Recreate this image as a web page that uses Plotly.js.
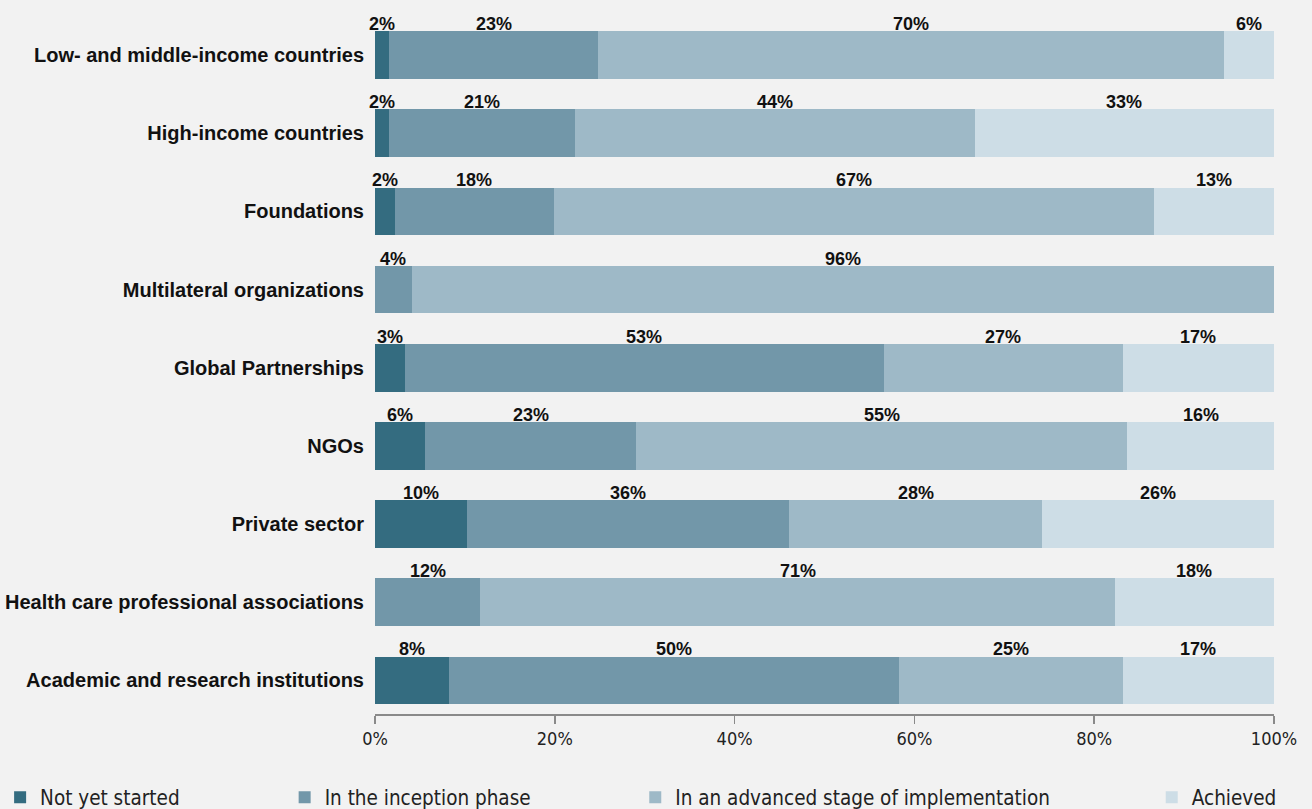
<!DOCTYPE html>
<html>
<head>
<meta charset="utf-8">
<script src="https://cdn.plot.ly/plotly-3.0.1.min.js"></script>
<style>
  html, body { margin: 0; padding: 0; background: #f2f2f2; }
  #chart { width: 1312px; height: 809px; }
</style>
</head>
<body>
<div id="chart"></div>
<script>
const categories = [
  'Low- and middle-income countries',
  'High-income countries',
  'Foundations',
  'Multilateral organizations',
  'Global Partnerships',
  'NGOs',
  'Private sector',
  'Health care professional associations',
  'Academic and research institutions'
];
const seriesNames = ['Not yet started', 'In the inception phase', 'In an advanced stage of implementation', 'Achieved'];
const notStarted = [1.6, 1.6, 2.2, 0, 3.3, 5.6, 10.2, 0, 8.2];
const inception  = [23.2, 20.7, 17.7, 4.1, 53.3, 23.4, 35.9, 11.7, 50.1];
const advanced   = [69.6, 44.4, 66.7, 95.9, 26.6, 54.7, 28.1, 70.6, 24.9];
const achieved   = [5.6, 33.3, 13.4, 0, 16.8, 16.3, 25.8, 17.7, 16.8];
const colors = ['#346c80', '#7297a9', '#9eb9c7', '#cddde6'];
const xTicks = [0, 20, 40, 60, 80, 100];
const xTickText = xTicks.map(t => t + '%');

const series = [notStarted, inception, advanced, achieved];
const legendIds = ['legend', 'legend2', 'legend3', 'legend4'];
const legendX = [-0.417, -0.1005, 0.2895, 0.864];

const traces = series.map((vals, i) => ({
  type: 'bar',
  orientation: 'h',
  name: seriesNames[i],
  y: categories,
  x: vals,
  width: 0.61,
  marker: { color: colors[i], line: { width: 0 } },
  legend: legendIds[i],
  hoverinfo: 'skip'
}));

const annotations = [];
categories.forEach((cat, r) => {
  let cum = 0;
  series.forEach((vals) => {
    const v = vals[r];
    if (v > 0) {
      annotations.push({
        xref: 'x', yref: 'y',
        x: cum + v / 2, y: cat,
        text: Math.round(v) + '%',
        showarrow: false,
        yanchor: 'bottom',
        yshift: 19,
        font: { family: 'Liberation Sans, Arial, sans-serif', size: 18, color: '#111', weight: 'bold' }
      });
    }
    cum += v;
  });
});

const condensed = 'DejaVu Sans Condensed, Liberation Sans, Arial, sans-serif';
const legendFont = { family: condensed, size: 20.5, color: '#222' };
const layout = {
  width: 1312, height: 809,
  paper_bgcolor: '#f2f2f2',
  plot_bgcolor: '#f2f2f2',
  barmode: 'stack',
  margin: { l: 375, r: 38, t: 16, b: 95, pad: 0, autoexpand: false },
  showlegend: true,
  xaxis: {
    range: [0, 100],
    tickmode: 'array',
    tickvals: xTicks,
    ticktext: xTickText,
    showgrid: false,
    zeroline: false,
    showline: true,
    linecolor: '#8a8a8a',
    linewidth: 1.5,
    ticks: 'outside',
    ticklen: 8,
    tickwidth: 1.5,
    tickcolor: '#8a8a8a',
    tickfont: { family: condensed, size: 18, color: '#222' },
    fixedrange: true
  },
  yaxis: {
    type: 'category',
    range: [8.43, -0.5],
    showgrid: false,
    zeroline: false,
    showline: false,
    ticks: '',
    ticklabelstandoff: 10,
    tickfont: { family: 'Liberation Sans, Arial, sans-serif', size: 20, color: '#111', weight: 'bold' },
    fixedrange: true
  },
  annotations: annotations
};
legendIds.forEach((id, i) => {
  layout[id] = {
    orientation: 'h',
    x: legendX[i], xanchor: 'left',
    y: -0.091, yanchor: 'top',
    bgcolor: 'rgba(0,0,0,0)',
    font: legendFont,
    itemclick: false, itemdoubleclick: false
  };
});

Plotly.newPlot('chart', traces, layout, { displayModeBar: false, staticPlot: true });
</script>
</body>
</html>
